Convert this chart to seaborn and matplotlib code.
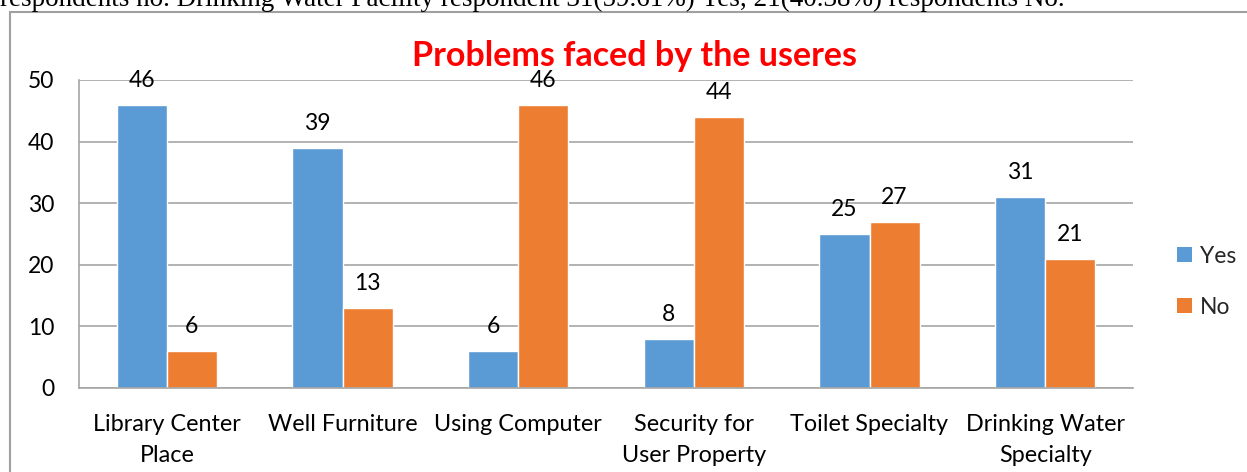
import matplotlib
matplotlib.use("Agg")
import matplotlib.pyplot as plt
from matplotlib.lines import Line2D
from matplotlib.patches import Patch
import pandas as pd
import seaborn as sns

categories = ["Library Center\nPlace", "Well Furniture", "Using Computer",
              "Security for\nUser Property", "Toilet Specialty", "Drinking Water\nSpecialty"]
yes_values = [46, 39, 6, 8, 25, 31]
no_values = [6, 13, 46, 44, 27, 21]
series_names = ["Yes", "No"]
y_ticks = [0, 10, 20, 30, 40, 50]
title = "Problems faced by the useres"
caption = ("respondents no. Drinking Water Facility respondent 31(59.61%) Yes, "
           "21(40.38%) respondents No.")

df = pd.DataFrame({
    "Category": categories * 2,
    "Response": [series_names[0]] * len(categories) + [series_names[1]] * len(categories),
    "Count": yes_values + no_values,
})

sns.set_theme(style="white")
plt.rcParams["font.family"] = ["Lato", "DejaVu Sans"]

W, H = 1247, 472
fig = plt.figure(figsize=(W / 100, H / 100), dpi=100)
ax = fig.add_axes([79 / W, 1 - 388 / H, (1133 - 79) / W, (388 - 80) / H])

colors = {"Yes": "#5B9BD5", "No": "#ED7D31"}
sns.barplot(data=df, x="Category", y="Count", hue="Response", palette=colors,
            width=0.57, gap=0, saturation=1, ax=ax, legend=False)

for cont in ax.containers:
    ax.bar_label(cont, padding=10, fontsize=16.5, color="#000000")

ax.set_ylim(0, 50)
ax.set_yticks(y_ticks)
ax.yaxis.grid(True, color="#A6A6A6", linewidth=1.2)
ax.set_axisbelow(True)
ax.set_xlabel("")
ax.set_ylabel("")
for side in ["top", "right"]:
    ax.spines[side].set_visible(False)
for side in ["left", "bottom"]:
    ax.spines[side].set_color("#A6A6A6")
    ax.spines[side].set_linewidth(1.2)
ax.tick_params(axis="y", length=0, pad=18, labelsize=16.5, labelcolor="#000000")
ax.tick_params(axis="x", length=0, pad=19, labelsize=16.8, labelcolor="#000000")
for lbl in ax.get_xticklabels():
    lbl.set_linespacing(1.55)

handles = [Patch(facecolor=colors[n], edgecolor="none", label=n) for n in series_names]
ax.legend(handles=handles, loc="center left", bbox_to_anchor=(1.022, 0.345),
          frameon=False, fontsize=16.5, handlelength=0.65, handleheight=0.65,
          handletextpad=0.35, labelspacing=1.3)

fig.text(635 / W, 1 - 56 / H, title, color="#FF0000", fontsize=24.5,
         fontweight="bold", ha="center", va="center")

fig.text(0.0, 1 - 6 / H, caption, family="Liberation Serif", fontsize=19.5,
         ha="left", va="baseline", color="#000000")

# frame around the chart area
fig.add_artist(Line2D([10 / W, 10 / W], [-0.05, 1 - 11.5 / H], color="#A0A0A0",
                      linewidth=1.5, transform=fig.transFigure))
fig.add_artist(Line2D([10 / W, 1.05], [1 - 11.5 / H, 1 - 11.5 / H], color="#A0A0A0",
                      linewidth=1.5, transform=fig.transFigure))

fig.savefig("out.png", dpi=100)
